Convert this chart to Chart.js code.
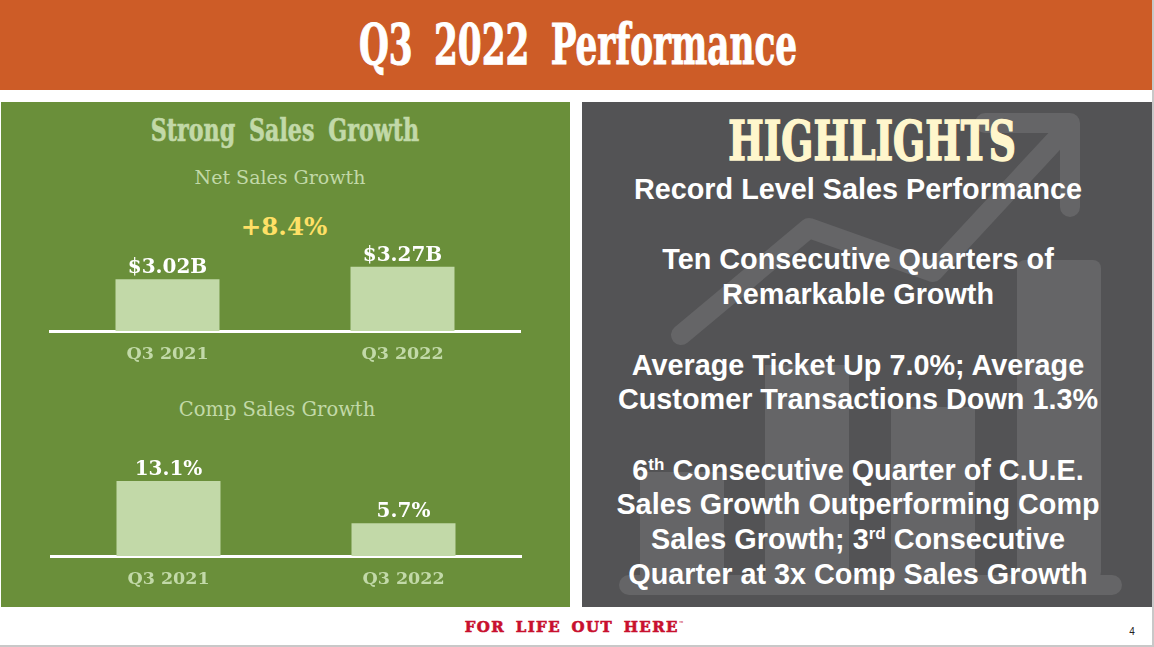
<!DOCTYPE html>
<html>
<head>
<meta charset="utf-8">
<title>Q3 2022 Performance</title>
<script src="https://cdn.jsdelivr.net/npm/chart.js@4"></script>
<style>
  html, body { margin: 0; padding: 0; background: #fff; }
  #slide { position: relative; width: 1154px; height: 647px; overflow: hidden; background: #fff; }
  .box { position: absolute; }
  .txt { position: absolute; white-space: nowrap; text-align: center; transform: translate(-50%, -50%); }
  .slab { font-family: "DejaVu Serif", serif; }
  .cond { font-family: "DejaVu Serif Condensed", "DejaVu Serif", serif; font-weight: bold; }
  .hl { font-family: "Liberation Sans", Arial, sans-serif; font-weight: bold; font-size: 28.8px; color: #fff; }
  .hl sup { font-size: 17px; line-height: 0; vertical-align: 10px; }
  canvas { position: absolute; }
</style>
</head>
<body>
<div id="slide">
  <div class="box" style="left:0;top:0;width:1154px;height:90px;background:#cd5c27"></div>
  <div class="box" style="left:1px;top:102px;width:569px;height:505px;background:#6a8f3a"></div>
  <div class="box" style="left:582px;top:102px;width:570px;height:505px;background:#535355"></div>

  <svg class="box" style="left:0;top:0" width="1154" height="647">
    <g fill="#656567">
      <rect x="640" y="472" width="84" height="110"/>
      <rect x="765" y="365" width="84" height="215"/>
      <rect x="891" y="407" width="84" height="175"/>
      <rect x="1017" y="260" width="84" height="320" rx="8"/>
      <rect x="619" y="575" width="503" height="20" rx="10"/>
    </g>
    <g fill="none" stroke="#656567" stroke-width="20" stroke-linecap="round" stroke-linejoin="round">
      <polyline points="681,335 809,228 933,272 1062,133"/>
      <polyline points="985,123 1070,123 1070,207"/>
    </g>
  </svg>

  <div class="txt cond" style="left:578px;top:44px;font-size:56px;color:#fff;word-spacing:14px;-webkit-text-stroke:1px #fff;transform:translate(-50%,-50%) scaleX(.68)">Q3 2022 Performance</div>
  <div class="txt cond" style="left:285px;top:130px;font-size:32px;color:#c2d9a8;word-spacing:8px;-webkit-text-stroke:.6px #c2d9a8;transform:translate(-50%,-50%) scaleX(.77)">Strong Sales Growth</div>
  <div class="txt slab" style="left:280px;top:177px;font-size:19px;color:#c2d9a8">Net Sales Growth</div>
  <div class="txt slab" style="left:284px;top:226px;font-size:24.5px;font-weight:bold;color:#ffe066">+8.4%</div>
  <div class="txt slab" style="left:277px;top:409px;font-size:19.5px;color:#c2d9a8">Comp Sales Growth</div>

  <canvas id="netChart" class="box" style="left:0;top:230px" width="570" height="140"></canvas>
  <canvas id="compChart" class="box" style="left:1px;top:445px" width="569" height="150"></canvas>

  <div class="txt cond" style="left:872px;top:140px;font-size:55px;color:#fff6cc;-webkit-text-stroke:1.5px #fff6cc;transform:translate(-50%,-50%) scaleX(.76)">HIGHLIGHTS</div>
  <div class="txt hl" style="left:858px;top:189px">Record Level Sales Performance</div>
  <div class="txt hl" style="left:858px;top:259px">Ten Consecutive Quarters of</div>
  <div class="txt hl" style="left:858px;top:294px">Remarkable Growth</div>
  <div class="txt hl" style="left:858px;top:365px">Average Ticket Up 7.0%; Average</div>
  <div class="txt hl" style="left:858px;top:399px">Customer Transactions Down 1.3%</div>
  <div class="txt hl" style="left:858px;top:470px">6<sup>th</sup> Consecutive Quarter of C.U.E.</div>
  <div class="txt hl" style="left:858px;top:504px">Sales Growth Outperforming Comp</div>
  <div class="txt hl" style="left:858px;top:539px">Sales Growth; 3<sup>rd</sup> Consecutive</div>
  <div class="txt hl" style="left:858px;top:574px">Quarter at 3x Comp Sales Growth</div>

  <div class="txt slab" style="left:575px;top:627px;font-size:15px;font-weight:bold;color:#c8102e;letter-spacing:1.4px;word-spacing:4px;-webkit-text-stroke:.6px #c8102e">FOR LIFE OUT HERE<span style="font-size:5px;vertical-align:7px;-webkit-text-stroke:0">™</span></div>
  <div class="txt" style="left:1132px;top:631px;font:10px 'Liberation Sans',Arial,sans-serif;color:#222">4</div>
  <div class="box" style="left:0;top:645px;width:1154px;height:2px;background:#c8c8c8"></div>
  <div class="box" style="left:1152px;top:0;width:2px;height:647px;background:#c8c8c8"></div>
</div>

<script>
const categories = ['Q3 2021', 'Q3 2022'];
const netSales = [3.02, 3.27];
const netLabels = ['$3.02B', '$3.27B'];
const compSales = [13.1, 5.7];
const compLabels = ['13.1%', '5.7%'];

// value labels sit just above each bar
const barLabels = {
    id: 'barLabels',
    afterDatasetsDraw(chart, args, opts) {
        const ctx = chart.ctx;
        ctx.save();
        ctx.font = 'bold 20px "DejaVu Serif", serif';
        ctx.fillStyle = '#ffffff';
        ctx.textAlign = 'center';
        ctx.textBaseline = 'alphabetic';
        chart.getDatasetMeta(0).data.forEach((bar, i) => {
            ctx.fillText(opts.text[i], bar.x, bar.y - 6);
        });
        ctx.restore();
    }
};

function makeBars(id, values, text, yMin, yMax, axisHeight, padRight) {
    new Chart(document.getElementById(id), {
        type: 'bar',
        data: {
            labels: categories,
            datasets: [{
                data: values,
                backgroundColor: '#c2d9a8',
                barPercentage: 0.4425,
                categoryPercentage: 1
            }]
        },
        options: {
            responsive: false,
            animation: false,
            layout: { padding: { top: 25, left: 50, right: padRight, bottom: 0 } },
            plugins: {
                legend: { display: false },
                tooltip: { enabled: false },
                barLabels: { text: text }
            },
            scales: {
                x: {
                    afterFit: scale => { scale.height = axisHeight; },
                    grid: { display: false },
                    border: { color: '#ffffff', width: 3 },
                    ticks: {
                        color: '#c2d9a8',
                        padding: 5,
                        font: { family: '"DejaVu Serif", serif', size: 17.5, weight: 'bold' }
                    }
                },
                y: { display: false, min: yMin, max: yMax }
            }
        },
        plugins: [barLabels]
    });
}

makeBars('netChart', netSales, netLabels, 2, 3.5, 39, 50);
makeBars('compChart', compSales, compLabels, 0, 15, 39, 49);
</script>
</body>
</html>
